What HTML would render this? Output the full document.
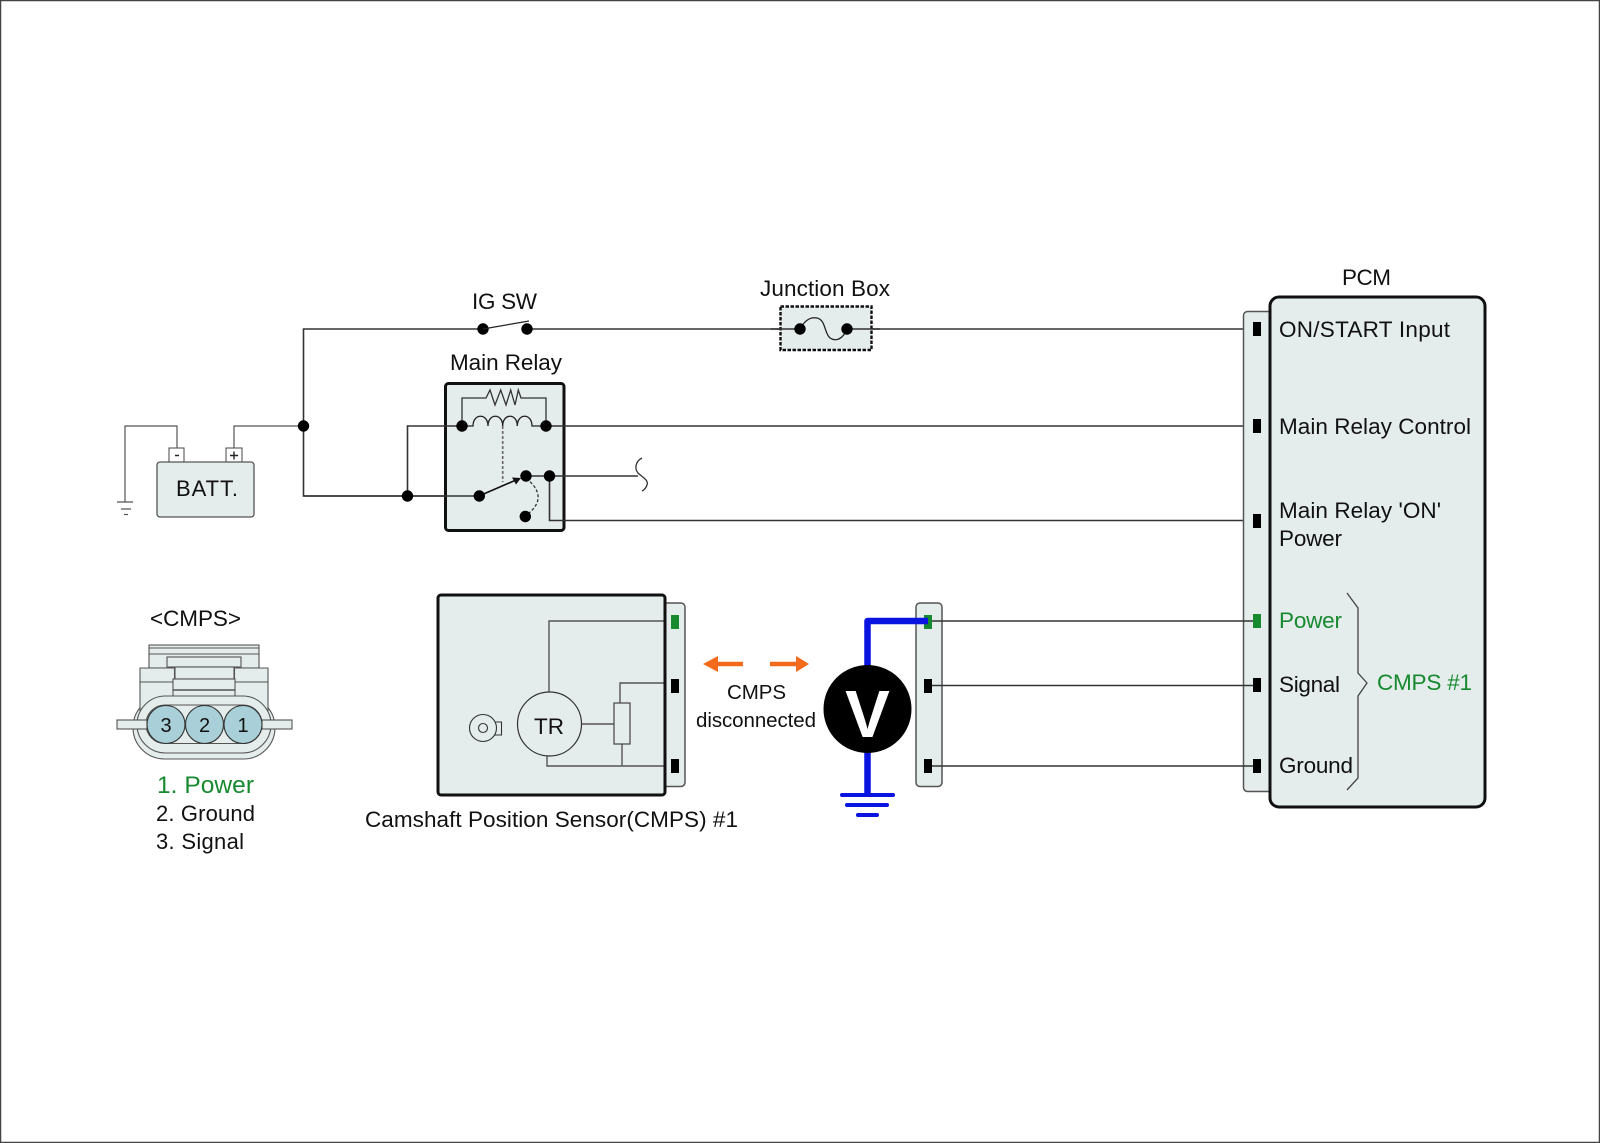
<!DOCTYPE html>
<html><head><meta charset="utf-8"><style>
html,body{margin:0;padding:0;background:#fff}
svg{display:block}
text{font-family:"Liberation Sans",sans-serif;fill:#111}
.g{fill:#178a30}
.w{fill:none;stroke:#333;stroke-width:1.6}
.b{fill:#e4ecec;stroke:#111;stroke-width:3}
.s{fill:#e4ecec;stroke:#555;stroke-width:1.5}
.t{fill:none;stroke:#555;stroke-width:1.2}
</style></head><body>
<svg width="1600" height="1143" viewBox="0 0 1600 1143" xmlns="http://www.w3.org/2000/svg" font-size="22.5">
<rect x="0.5" y="0.5" width="1599" height="1142" fill="#fff" stroke="#444" stroke-width="1.500"/>

<!-- Battery -->
<rect x="169" y="448" width="15" height="15" fill="#fff" stroke="#444" stroke-width="1"/>
<rect x="226" y="448" width="16" height="15" fill="#fff" stroke="#444" stroke-width="1"/>
<path d="M175 455.500H179M230 455.500H238M234 451.500V459.500" stroke="#222" stroke-width="1.400" fill="none"/>
<rect x="157" y="462" width="97" height="55" rx="3" fill="#e4ecec" stroke="#555" stroke-width="1.300"/>
<text x="176" y="496" font-size="22" textLength="62">BATT.</text>
<path class="t" d="M177 448V426H125V502M117 502H133M121 509H131M124 514.500H128"/>
<path class="t" d="M234 448V426H303"/>

<!-- Main wires -->
<path class="w" d="M303.500 426V329H483M527 329H1253"/>
<path class="w" d="M303.500 426V496H479"/>

<!-- Main relay -->
<rect class="b" x="445.500" y="383.500" width="118.500" height="147" rx="3"/>
<path class="w" d="M407.500 496V426H462M303.500 496H479M546 426H1253M526 476H638"/>
<path class="w" d="M549.500 476V520.500H1253"/>
<path d="M642 458C636 461 634 468 638 473C642 477 649 480 647 485C646 488 644 490 642 491" fill="none" stroke="#333" stroke-width="1.300"/>
<path d="M462 426V398H486L490 390L495 405L500.700 390L506 405L510.700 390L515 405L518.300 390L521 398H546V426" fill="none" stroke="#333" stroke-width="1.300"/>
<path d="M462 426H473C473 413 488 413 488 426C488 413 502.700 413 502.700 426C502.700 413 517.300 413 517.300 426C517.300 413 532 413 532 426H546" fill="none" stroke="#222" stroke-width="1.300"/>
<path d="M502.700 426V482" fill="none" stroke="#666" stroke-width="1.600" stroke-dasharray="3 2"/>
<path d="M479 496L516 480" fill="none" stroke="#111" stroke-width="1.600"/>
<path d="M521 478L512 477.500L516 484.500Z" fill="#111"/>
<path d="M530 481.700C541 492 541 503 529 513" fill="none" stroke="#333" stroke-width="1.300" stroke-dasharray="3 2"/>
<g fill="#000">
<circle cx="303.500" cy="426" r="5.700"/><circle cx="407.500" cy="496" r="5.700"/>
<circle cx="462" cy="426" r="5.700"/><circle cx="546" cy="426" r="5.700"/>
<circle cx="479.300" cy="496" r="5.700"/><circle cx="526" cy="476" r="5.700"/>
<circle cx="549.500" cy="476" r="5.700"/><circle cx="525.300" cy="516.500" r="5.700"/>
<circle cx="483" cy="329" r="5.700"/><circle cx="527" cy="329" r="5.700"/>
</g>
<path d="M483 329L529 321" fill="none" stroke="#222" stroke-width="1.300"/>
<text x="472" y="309" textLength="65">IG SW</text>
<text x="450" y="370" textLength="112">Main Relay</text>

<!-- Junction box -->
<rect x="780.500" y="306.500" width="91" height="43.500" fill="#e4ecec" stroke="#111" stroke-width="2.400" stroke-dasharray="3.500 1.500"/>
<path d="M771 329H800M847 329H880" fill="none" stroke="#333" stroke-width="1.600"/>
<path d="M800 329C806 318 812 317 817 318C826 320 824 333 830 338C836 342 843 339 847 329" fill="none" stroke="#222" stroke-width="1.300"/>
<circle cx="800" cy="329" r="5.700"/><circle cx="847" cy="329" r="5.700"/>
<text x="760" y="296" textLength="130">Junction Box</text>

<!-- PCM -->
<rect class="s" x="1243.500" y="311.500" width="30" height="480" rx="4"/>
<rect class="b" x="1270" y="297" width="215" height="510" rx="9"/>
<g fill="#000">
<rect x="1253" y="322" width="8" height="14"/><rect x="1253" y="419" width="8" height="14"/>
<rect x="1253" y="514" width="8" height="14"/><rect x="1253" y="678" width="8" height="14"/>
<rect x="1253" y="759" width="8" height="14"/></g>
<rect x="1253" y="614" width="8" height="14" fill="#178a30"/>
<text x="1342" y="285" textLength="49">PCM</text>
<text x="1279" y="337" textLength="171">ON/START Input</text>
<text x="1279" y="434" textLength="192">Main Relay Control</text>
<text x="1279" y="518" textLength="162">Main Relay 'ON'</text>
<text x="1279" y="546" textLength="63">Power</text>
<text x="1279" y="628" class="g" textLength="63">Power</text>
<text x="1279" y="692" textLength="61">Signal</text>
<text x="1279" y="773" textLength="74">Ground</text>
<text x="1377" y="690" class="g" textLength="95">CMPS #1</text>
<path d="M1347 593L1358 608V673L1367 683L1358 696V778L1347 790" fill="none" stroke="#444" stroke-width="1.300"/>

<!-- Sensor -->
<rect class="s" x="655" y="603" width="30" height="183.500" rx="4"/>
<rect class="b" x="438" y="595" width="227" height="200" rx="3"/>
<rect x="671" y="615" width="8" height="14" fill="#178a30"/>
<rect x="671" y="679" width="8" height="14"/><rect x="671" y="759" width="8" height="14"/>
<path d="M549 693V621H663.500M582 724H614M620 703V683H663.500M622 744V766M547 755V766H663.500" fill="none" stroke="#555" stroke-width="1.400"/>
<circle cx="549.500" cy="724" r="32" fill="#e4ecec" stroke="#333" stroke-width="1.200"/>
<rect x="614" y="703" width="16" height="41" fill="#e4ecec" stroke="#444" stroke-width="1.200"/>
<text x="534" y="734" textLength="30">TR</text>
<path d="M492 722H501.500V735H492" fill="#e4ecec" stroke="#333" stroke-width="1.100"/>
<circle cx="483" cy="728" r="13.500" fill="#e4ecec" stroke="#333" stroke-width="1.100"/>
<circle cx="483" cy="728" r="4.500" fill="none" stroke="#333" stroke-width="1.100"/>
<text x="365" y="827" textLength="373">Camshaft Position Sensor(CMPS) #1</text>

<!-- Arrows -->
<path d="M703 664L718 656V661.700H743V666.300H718V672Z" fill="#f26a1b"/>
<path d="M809 664L796 656V661.700H770V666.300H796V672Z" fill="#f26a1b"/>
<text x="727" y="699" font-size="20.500" textLength="59">CMPS</text>
<text x="696" y="727" font-size="20.500" textLength="120">disconnected</text>

<!-- Voltmeter -->
<rect class="s" x="916" y="603" width="26" height="183.500" rx="4"/>
<path d="M932 621H1253M932 685.500H1253M932 766H1253" fill="none" stroke="#333" stroke-width="1.600"/>
<rect x="924" y="615" width="8" height="14" fill="#178a30"/>
<rect x="924" y="679" width="8" height="14"/><rect x="924" y="759" width="8" height="14"/>
<path d="M928 621H867.500V795" fill="none" stroke="#0a14e0" stroke-width="6.500" stroke-linejoin="round"/>
<path d="M842 795H893M847 805H887M858 815H877" fill="none" stroke="#0a14e0" stroke-width="4" stroke-linecap="round"/>
<circle cx="867.500" cy="709" r="44" fill="#000"/>
<text x="867.500" y="737" text-anchor="middle" font-size="67" font-weight="bold" style="fill:#fff">V</text>

<!-- Connector view -->
<text x="150" y="626" textLength="91">&lt;CMPS&gt;</text>
<g fill="#e4ecec" stroke="#555" stroke-width="1.100">
<rect x="133" y="696" width="142" height="63" rx="31.500"/>
<rect x="149" y="645" width="110" height="23"/>
<path d="M149 648H259M149 654H259" fill="none"/>
<rect x="140" y="668" width="128" height="50" stroke="none"/>
<path d="M140 718V668H174.500M268 718V668H234.500M174.500 668V696M234.500 668V696" fill="none"/>
<path d="M140 682H174M235 682H268" fill="none"/>
<rect x="167" y="657" width="74" height="10"/>
<rect x="175" y="667" width="59" height="12"/>
<rect x="173" y="679" width="62" height="18"/>
<path d="M173 690H235" fill="none" stroke-width="1.500"/>
<rect x="137" y="696" width="134" height="57" rx="28.500"/>
<rect x="146" y="705" width="116" height="38.500" rx="19" fill="#e4ecec"/>
<rect x="117" y="720" width="30" height="9"/>
<rect x="262" y="720" width="30" height="9"/>
</g>
<g fill="#a9cfd8" stroke="#333" stroke-width="1.100">
<circle cx="166" cy="724.500" r="19"/><circle cx="204.500" cy="724.500" r="19"/><circle cx="243" cy="724.500" r="19"/>
</g>
<text x="166" y="732" text-anchor="middle" font-size="20">3</text>
<text x="204.500" y="732" text-anchor="middle" font-size="20">2</text>
<text x="243" y="732" text-anchor="middle" font-size="20">1</text>
<text x="157" y="793" class="g" font-size="24.500" textLength="97">1. Power</text>
<text x="156" y="821" font-size="22" textLength="99">2. Ground</text>
<text x="156" y="849" font-size="22" textLength="88">3. Signal</text>
</svg>
</body></html>
